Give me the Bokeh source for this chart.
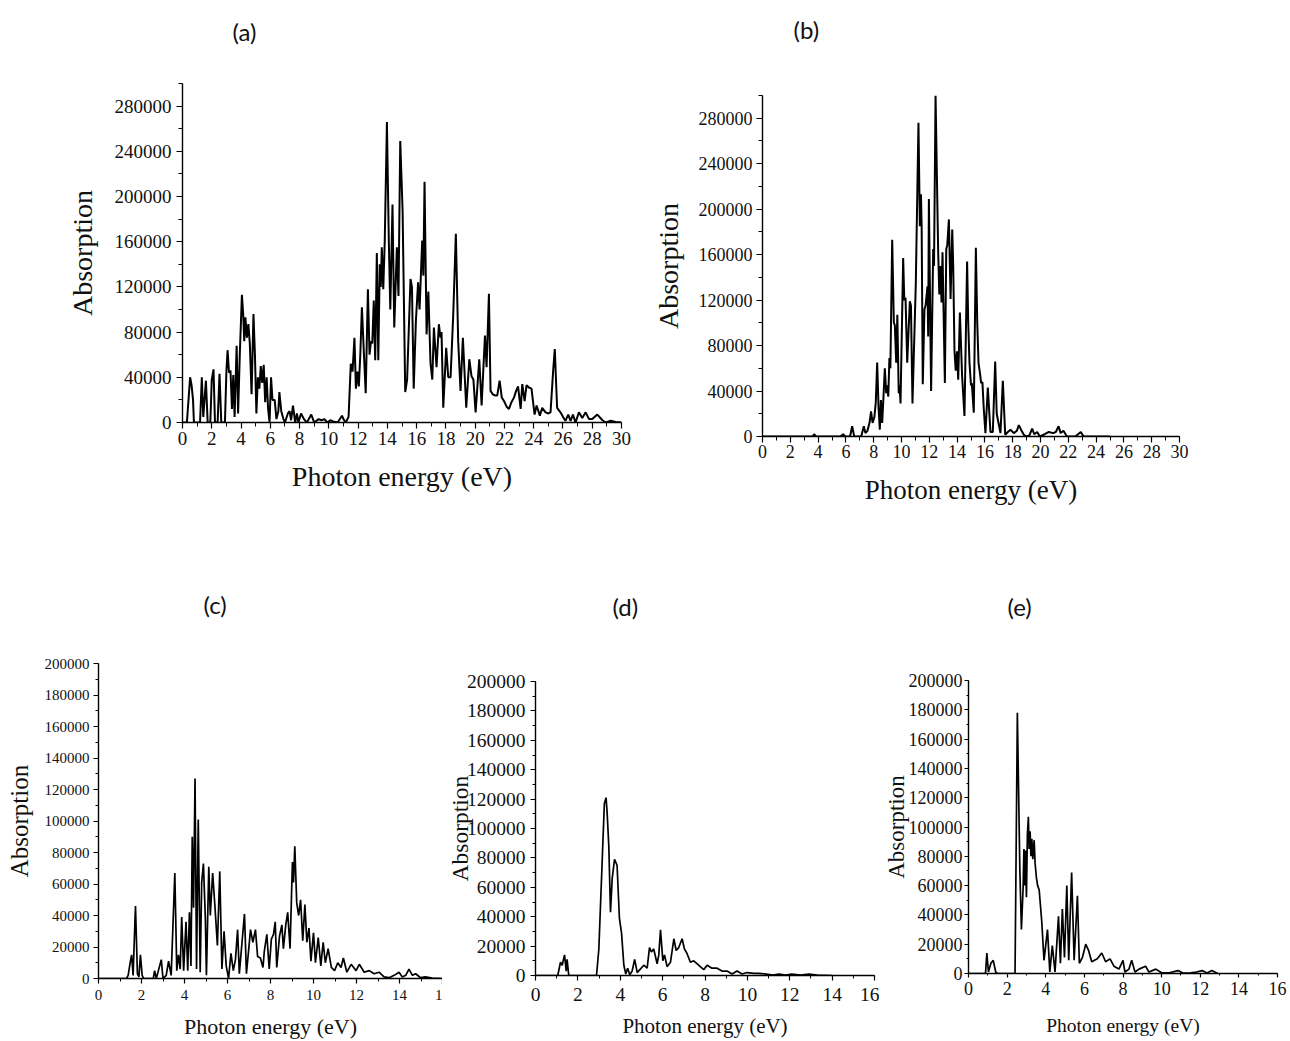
from bokeh.plotting import figure
from bokeh.layouts import column, row
from bokeh.models import Range1d, SingleIntervalTicker, BasicTickFormatter, Title
from bokeh.embed import file_html
from bokeh.resources import INLINE

# ---------------- data (absorption in units of 1000) ----------------
a_x = [0, 0.3, 0.52, 0.62, 0.72, 0.78, 1.2, 1.32, 1.42, 1.6,
       1.72, 1.9, 2.0, 2.12, 2.22, 2.4, 2.53, 2.65, 2.9, 3.0,
       3.08, 3.18, 3.28, 3.38, 3.47, 3.56, 3.7, 3.8, 3.92, 4.06,
       4.15, 4.22, 4.3, 4.4, 4.5, 4.6, 4.72, 4.85, 4.95, 5.05,
       5.15, 5.25, 5.35, 5.45, 5.55, 5.65, 5.75, 5.85, 5.95, 6.05,
       6.15, 6.3, 6.42, 6.55, 6.62, 6.75, 6.9, 7.0, 7.2, 7.32,
       7.42, 7.55, 7.7, 7.82, 7.92, 8.1, 8.3, 8.5, 8.8, 9.0,
       9.3, 9.5, 9.7, 9.9, 10.1, 10.3, 10.6, 10.9, 11.0, 11.15,
       11.35, 11.5, 11.62, 11.75, 11.85, 11.95, 12.05, 12.15, 12.26, 12.4,
       12.52, 12.67, 12.78, 12.88, 12.97, 13.07, 13.17, 13.28, 13.38, 13.48,
       13.55, 13.62, 13.72, 13.82, 13.97, 14.1, 14.2, 14.35, 14.47, 14.65,
       14.76, 14.88, 15.04, 15.22, 15.35, 15.58, 15.68, 15.8, 15.95, 16.1,
       16.2, 16.38, 16.46, 16.54, 16.68, 16.8, 16.95, 17.07, 17.18, 17.36,
       17.52, 17.63, 17.7, 17.82, 18.02, 18.16, 18.32, 18.5, 18.68, 18.84,
       19.0, 19.16, 19.39, 19.6, 19.75, 19.88, 20.03, 20.28, 20.44, 20.67,
       20.78, 20.94, 21.05, 21.2, 21.35, 21.51, 21.67, 21.82, 21.97, 22.15,
       22.31, 22.48, 22.65, 22.8, 22.93, 23.11, 23.22, 23.38, 23.51, 23.67,
       23.85, 24.06, 24.2, 24.42, 24.58, 24.81, 25.0, 25.15, 25.33, 25.44,
       25.6, 25.83, 26.0, 26.17, 26.36, 26.52, 26.68, 26.86, 27.09, 27.32,
       27.55, 27.78, 28.0, 28.35, 28.7, 28.93, 29.27, 29.6, 30.0]
a_k = [0, 0, 40, 33, 20, 0, 0, 40, 5, 37,
       0, 0, 38, 47, 0, 0, 43, 0, 0, 45,
       64, 44, 46, 12, 42, 5, 68, 8, 62, 113,
       95, 72, 93, 75, 87, 70, 25, 96, 60, 8,
       40, 30, 50, 35, 51, 18, 40, 12, 0, 40,
       20, 20, 3, 10, 27, 10, 3, 0, 8, 10,
       2, 15, 0, 8, 0, 8, 3, 0, 7, 0,
       3, 2, 3, 0, 2, 1, 0, 6, 3, 0,
       5, 52, 45, 75, 30, 45, 32, 60, 102, 60,
       26, 118, 60, 72, 70, 108, 55, 150, 55, 140,
       120, 155, 118, 160, 266, 160, 100, 193, 84, 155,
       112, 249, 188, 27, 38, 127, 120, 30, 90, 124,
       100, 161, 130, 213, 78, 116, 52, 38, 84, 49,
       87, 75, 80, 13, 66, 40, 40, 95, 167, 72,
       28, 75, 13, 56, 41, 38, 9, 56, 15, 77,
       49, 114, 28, 25, 24, 24, 37, 22, 19, 14,
       12, 18, 22, 28, 32, 12, 34, 19, 33, 31,
       30, 7, 15, 6, 13, 9, 8, 9, 46, 65,
       13, 9, 5, 1.5, 7, 1.5, 7, 0, 9, 4,
       9, 3, 3, 7, 2, 0, 1.5, 0.5, 0]

b_x = [0, 3.6, 3.72, 3.85, 5.6, 5.8, 5.95, 6.3, 6.45, 6.6,
       7.1, 7.29, 7.4, 7.55, 7.7, 7.81, 7.92, 8.05, 8.15, 8.25,
       8.35, 8.44, 8.52, 8.61, 8.7, 8.8, 8.9, 8.97, 9.05, 9.13,
       9.2, 9.33, 9.45, 9.52, 9.62, 9.7, 9.8, 9.86, 9.93, 10.12,
       10.2, 10.29, 10.41, 10.6, 10.68, 10.79, 11.03, 11.22, 11.32, 11.4,
       11.45, 11.53, 11.65, 11.73, 11.87, 11.92, 11.97, 12.13, 12.28, 12.34,
       12.45, 12.6, 12.64, 12.72, 12.81, 12.88, 12.95, 13.12, 13.22, 13.29,
       13.41, 13.53, 13.65, 13.72, 13.81, 13.9, 14.0, 14.08, 14.2, 14.36,
       14.53, 14.72, 14.8, 14.89, 15.0, 15.06, 15.2, 15.35, 15.45, 15.54,
       15.65, 15.73, 15.82, 15.92, 16.04, 16.21, 16.4, 16.57, 16.74, 16.85,
       16.93, 17.12, 17.29, 17.46, 17.65, 17.84, 18.08, 18.3, 18.44, 18.6,
       18.8, 19.0, 19.2, 19.4, 19.55, 19.76, 19.95, 20.3, 20.6, 20.9,
       21.1, 21.3, 21.45, 21.65, 21.9, 22.5, 22.9, 23.1, 25.0]
b_k = [0, 0, 2, 0, 0, 2, 0, 0, 9, 0,
       0, 9, 3, 5, 12, 22, 12, 17, 30, 65,
       25, 6, 32, 12, 34, 60, 38, 45, 35, 69,
       60, 173, 100, 98, 65, 107, 38, 45, 29, 157,
       120, 122, 65, 119, 115, 29, 135, 276, 185, 213,
       185, 46, 112, 115, 132, 88, 209, 40, 165, 150,
       300, 190, 162, 125, 150, 118, 162, 47, 165, 168,
       191, 121, 182, 150, 76, 58, 75, 50, 109, 53,
       18, 154, 100, 65, 45, 47, 21, 166, 100, 65,
       55, 47, 48, 24, 3, 43, 4, 4, 66, 20,
       15, 3, 49, 1.5, 4, 6, 3, 5, 10, 6,
       1.5, 0, 1, 7, 2, 4, 0, 2, 4, 3,
       4, 9, 3, 5, 0, 0, 4, 0, 0]

c_x = [0, 1.3, 1.38, 1.46, 1.54, 1.61, 1.72, 1.81, 1.88, 1.95,
       2.03, 2.1, 2.55, 2.61, 2.69, 2.92, 3.0, 3.15, 3.26, 3.38,
       3.55, 3.64, 3.72, 3.8, 3.87, 3.96, 4.07, 4.15, 4.23, 4.3,
       4.36, 4.42, 4.49, 4.56, 4.64, 4.73, 4.8, 4.88, 4.97, 5.02,
       5.13, 5.2, 5.31, 5.41, 5.53, 5.64, 5.74, 5.84, 5.94, 6.05,
       6.16, 6.27, 6.37, 6.47, 6.55, 6.65, 6.79, 6.88, 6.99, 7.07,
       7.18, 7.3, 7.4, 7.53, 7.65, 7.71, 7.83, 7.94, 8.04, 8.14,
       8.22, 8.29, 8.42, 8.53, 8.6, 8.71, 8.8, 8.91, 9.02, 9.07,
       9.13, 9.22, 9.31, 9.4, 9.5, 9.6, 9.69, 9.79, 9.88, 10.0,
       10.09, 10.22, 10.34, 10.45, 10.55, 10.68, 10.83, 10.98, 11.13, 11.28,
       11.39, 11.55, 11.75, 11.98, 12.13, 12.36, 12.59, 12.82, 13.05, 13.28,
       13.52, 13.75, 13.98, 14.13, 14.29, 14.44, 14.6, 14.75, 14.98, 15.21,
       15.52, 16.0]
c_k = [0, 0, 2, 9, 15, 2, 46, 3, 1, 15,
       2, 0, 0, 5, 0, 12, 0, 2, 11, 2,
       67, 5, 15, 6, 39, 5, 36, 5, 42, 8,
       90, 45, 127, 6, 101, 4, 61, 73, 38, 2,
       71, 40, 67, 47, 21, 68, 6, 30, 8, 0,
       16, 5, 12, 31, 3, 19, 41, 3, 19, 31,
       23, 31, 14, 13, 7, 17, 28, 6, 25, 28,
       36, 7, 27, 34, 19, 34, 42, 19, 74, 61,
       84, 48, 40, 50, 24, 47, 23, 32, 11, 29,
       10, 26, 8, 23, 10, 19, 7, 5, 10, 7,
       13, 4, 9, 5, 9, 4, 5, 3, 4, 1,
       0.5, 2, 4, 1, 2, 6, 2, 3, 0.5, 1,
       0.3, 0]

d_x = [0, 1.05, 1.18, 1.26, 1.37, 1.45, 1.49, 1.57, 2.88, 2.99,
       3.14, 3.25, 3.33, 3.38, 3.46, 3.54, 3.62, 3.73, 3.85, 3.96,
       4.06, 4.17, 4.26, 4.35, 4.45, 4.56, 4.68, 4.8, 5.11, 5.27,
       5.38, 5.47, 5.58, 5.74, 5.82, 5.9, 6.01, 6.09, 6.21, 6.37,
       6.53, 6.64, 6.76, 6.92, 7.03, 7.15, 7.31, 7.47, 7.7, 7.94,
       8.1, 8.33, 8.57, 8.8, 9.04, 9.28, 9.51, 9.75, 9.98, 10.3,
       10.55, 10.9, 11.2, 11.5, 11.8, 12.1, 12.5, 12.9, 13.3, 14.0]
d_k = [0, 0, 9, 7, 14, 3, 11, 0, 0, 18,
       75, 117, 121, 111, 88, 43, 66, 79, 75, 39,
       29, 7, 1, 5, 0.5, 3, 11, 2, 7, 5,
       19, 16, 18, 8, 14, 31, 10, 14, 6, 9,
       25, 17, 19, 25, 18, 15, 9, 10, 7, 4,
       7, 5, 5, 3, 3, 1, 3, 1, 2, 1.5,
       1.5, 1, 0.3, 1, 0.3, 1, 0.3, 1, 0.2, 0]

e_x = [0, 0.88, 0.95, 1.03, 1.16, 1.28, 1.41, 1.5, 2.41, 2.53,
       2.66, 2.74, 2.83, 2.87, 2.91, 2.95, 3.0, 3.05, 3.1, 3.14,
       3.19, 3.23, 3.28, 3.33, 3.4, 3.45, 3.52, 3.58, 3.66, 3.79,
       3.91, 4.09, 4.21, 4.34, 4.48, 4.66, 4.76, 4.86, 4.97, 5.09,
       5.19, 5.34, 5.47, 5.64, 5.74, 5.9, 6.07, 6.21, 6.38, 6.67,
       6.9, 7.1, 7.33, 7.53, 7.79, 8.0, 8.1, 8.31, 8.45, 8.62,
       8.83, 9.17, 9.34, 9.7, 10.0, 10.4, 10.85, 11.1, 11.5, 11.8,
       12.1, 12.35, 12.6, 12.9]
e_k = [0, 0, 14, 1, 7, 9, 1, 0, 0, 178,
       70, 30, 59, 85, 60, 84, 52, 95, 107, 85,
       97, 80, 92, 78, 91, 75, 65, 60, 57, 36,
       9, 30, 1, 19, 1, 39, 7, 44, 11, 60,
       9, 69, 9, 53, 7, 11, 20, 16, 8, 10,
       14, 8, 10, 5, 3, 9, 1, 3, 9, 1,
       3, 5, 1, 3, 0.5, 0.5, 2, 0.3, 0.5, 1,
       2, 0.3, 2, 0]

titles = ["(a)", "(b)", "(c)", "(d)", "(e)"]
x_label = "Photon energy (eV)"
y_label = "Absorption"

SERIF = "Liberation Serif"


def panel(title, xs, ks, width, height, borders, xmax, ymax, ystep,
          tick_fs, xlab_fs, ylab_fs, ystand, xstand, t_off, t_gap,
          tick_out, xlab_st, ylab_st, lw):
    l, r, t, b = borders
    p = figure(width=width, height=height, output_backend="svg",
               toolbar_location=None, title=None,
               x_range=Range1d(0, xmax), y_range=Range1d(0, ymax),
               min_border_left=l, min_border_right=r,
               min_border_top=t, min_border_bottom=b,
               background_fill_color="white", border_fill_color="white")
    p.outline_line_color = None
    p.xgrid.visible = False
    p.ygrid.visible = False
    ys = [v * 1000 for v in ks]
    p.line(xs, ys, line_color="black", line_width=lw)

    p.xaxis.ticker = SingleIntervalTicker(interval=2, num_minor_ticks=2)
    p.yaxis.ticker = SingleIntervalTicker(interval=ystep, num_minor_ticks=2)
    p.yaxis.formatter = BasicTickFormatter(use_scientific=False)
    for ax in (p.xaxis[0], p.yaxis[0]):
        ax.axis_line_color = "black"
        ax.axis_line_width = 1.4
        ax.major_tick_line_color = "black"
        ax.minor_tick_line_color = "black"
        ax.major_tick_line_width = 1.2
        ax.minor_tick_line_width = 1.0
        ax.major_tick_out = tick_out
        ax.major_tick_in = 0
        ax.minor_tick_out = max(tick_out - 2, 2)
        ax.minor_tick_in = 0
        ax.major_label_text_font = SERIF
        ax.major_label_text_font_size = f"{tick_fs}px"
        ax.major_label_text_color = "#111111"
        ax.axis_label_text_font = SERIF
        ax.axis_label_text_font_style = "normal"
        ax.axis_label_text_color = "#111111"
    p.xaxis.major_label_standoff = xlab_st
    p.yaxis.major_label_standoff = ylab_st
    p.xaxis.axis_label = x_label
    p.yaxis.axis_label = y_label
    p.xaxis.axis_label_text_font_size = f"{xlab_fs}px"
    p.yaxis.axis_label_text_font_size = f"{ylab_fs}px"
    p.xaxis.axis_label_standoff = xstand
    p.yaxis.axis_label_standoff = ystand

    # a blank spacer title next to the frame lifts the panel letter upward
    p.add_layout(Title(text=" ", text_font_size="1px", standoff=t_gap), "above")
    p.add_layout(Title(text=title, align="left", offset=t_off, standoff=0,
                       text_font="Lato", text_font_style="normal",
                       text_font_size="24px", text_color="#111111"), "above")
    return p


pa = panel(titles[0], a_x, a_k, 640, 540, (182, 19, 83, 118), 30, 300000, 40000,
           19, 28, 28, 14, 13, 50, 35, 6, 3, 5, 2.0)
pb = panel(titles[1], b_x, b_k, 650, 540, (122, 111, 95, 104), 30, 300000, 40000,
           18, 27, 28, 12, 14, 31, 49, 6, 2, 4, 2.0)
pc = panel(titles[2], c_x, c_k, 442, 501, (98, 0, 123, 63), 16, 200000, 20000,
           15, 22, 25, 9, 11, 105, 42, 5, 6, 4, 1.7)
pc.xaxis.major_label_overrides = {16: "1"}
pd = panel(titles[3], d_x, d_k, 437, 501, (93, 5, 141, 66), 16, 200000, 20000,
           19.5, 21, 23.5, -9, 10, 77, 58, 5, 7, 5, 1.7)
pe = panel(titles[4], e_x, e_k, 411, 501, (89, 13, 140, 68), 16, 200000, 20000,
           18, 19.5, 23, -3, 17, 39, 57, 4, 4, 2, 1.7)

layout = column(row(column(pa), column(pb)),
                row(column(pc), column(pd), column(pe)))

open("out.html", "w").write(file_html(layout, INLINE))
